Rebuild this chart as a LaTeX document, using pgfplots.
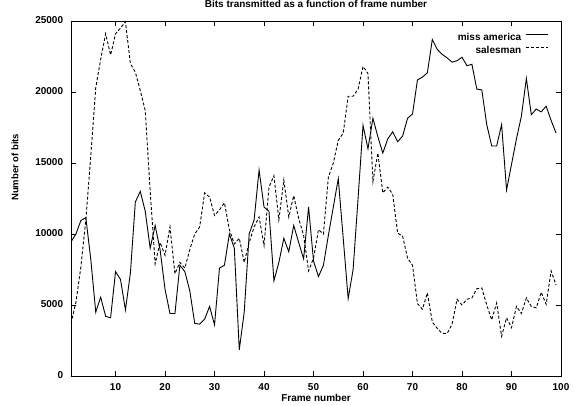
\documentclass[border=0pt]{standalone}
\usepackage{fontspec}
\setmainfont{Liberation Sans}
\usepackage{pgfplots}
\usepackage{pgfplotstable}
\pgfplotsset{compat=1.18}
\pgfplotstableread{
f ma sa
1 9450 3700
2 10000 5200
3 10950 7700
4 11150 11000
5 8200 15500
6 4500 20300
7 5550 22300
8 4200 24100
9 4100 22600
10 7350 24100
11 6800 24500
12 4650 24950
13 7250 22000
14 12250 21400
15 13000 20100
16 11600 18700
17 9000 13000
18 10600 7900
19 8900 9400
20 6100 8500
21 4400 10500
22 4400 7200
23 7800 8000
24 7350 7600
25 6000 8900
26 3700 10000
27 3650 10500
28 4000 12900
29 4900 12600
30 3600 11300
31 7600 11700
32 7800 12200
33 10000 10300
34 9000 9300
35 1850 9700
36 4500 8000
37 10000 9400
38 11000 10500
39 14500 11200
40 11900 9200
41 11600 13300
42 6700 14100
43 8000 11000
44 9700 13800
45 8750 11200
46 10600 12700
47 9400 11100
48 8250 9900
49 11900 7400
50 8100 8300
51 7000 10300
52 7800 10000
53 9900 14000
54 11900 15000
55 13900 16600
56 9700 17100
57 5450 19700
58 7500 19700
59 12500 20200
60 17650 21800
61 16000 21300
62 18150 13700
63 16850 15700
64 15700 12900
65 16700 13300
66 17200 12800
67 16500 10050
68 16900 9850
69 18150 8300
70 18450 7800
71 20850 5100
72 21050 4700
73 21350 5850
74 23700 3800
75 23000 3350
76 22650 3000
77 22400 3000
78 22100 3650
79 22200 5400
80 22450 5000
81 21850 5400
82 21950 5500
83 20200 6150
84 20150 6200
85 17700 5000
86 16200 3950
87 16200 5150
88 17700 2800
89 13100 4100
90 14900 3400
91 16700 4900
92 18300 4400
93 20950 5500
94 18400 4900
95 18800 4800
96 18600 5900
97 19000 5050
98 18000 7400
99 17100 6400
}\datatable
\newcommand\lblfont{\fontsize{10}{12}\selectfont\bfseries}
\begin{document}
\lblfont
\begin{tikzpicture}
\begin{axis}[
  at={(0,0)}, anchor=south west,
  scale only axis, width=490pt, height=355pt,
  xmin=1, xmax=100, ymin=0, ymax=25000,
  xtick={10,20,...,100}, ytick={0,5000,...,25000},
  tick align=inside, major tick length=5pt,
  tick style={black, line width=0.8pt},
  axis line style={black, line width=0.9pt},
  /pgf/number format/assume math mode=true,
  /pgf/number format/set thousands separator={},
  scaled y ticks=false,
  tick label style={font=\lblfont},
  xticklabel style={anchor=base, inner sep=0pt, yshift=-14.5pt},
  yticklabel style={anchor=mid east, inner sep=0pt, xshift=-7.7pt},
  title={Bits transmitted as a function of frame number},
  title style={at={(axis description cs:0.5,1)}, anchor=base, yshift=7pt, inner sep=0pt, font=\lblfont},
  xlabel={Frame number},
  xlabel style={at={(axis description cs:0.5,0)}, anchor=base, yshift=-25.5pt, inner sep=0pt, font=\lblfont},
  ylabel={Number of bits},
  ylabel style={at={(axis description cs:-0.1143,0.588)}, anchor=center, inner sep=0pt, font=\fontsize{9.5}{11}\selectfont\bfseries},
  legend cell align=right,
  legend plot pos=right,
  legend style={draw=none, fill=none, inner sep=0pt, at={(axis description cs:1,1)}, anchor=north east, xshift=-12.7pt, yshift=-11.3pt,
    nodes={inner sep=0pt, text height=8pt, text depth=2pt, font=\lblfont},
    column sep=4pt, row sep=3.3pt},
  legend image code/.code={\draw[#1] (0pt,3.5pt) -- (22pt,3.5pt);},
]
\addplot[black, line width=0.9pt] table[x=f, y=ma] {\datatable};
\addlegendentry{miss america}
\addplot[black, line width=0.9pt, dash pattern=on 3pt off 2pt] table[x=f, y=sa] {\datatable};
\addlegendentry{salesman}
\end{axis}
\pgfresetboundingbox
\path (-71pt,-30pt) rectangle (503pt,376pt);
\end{tikzpicture}
\end{document}
